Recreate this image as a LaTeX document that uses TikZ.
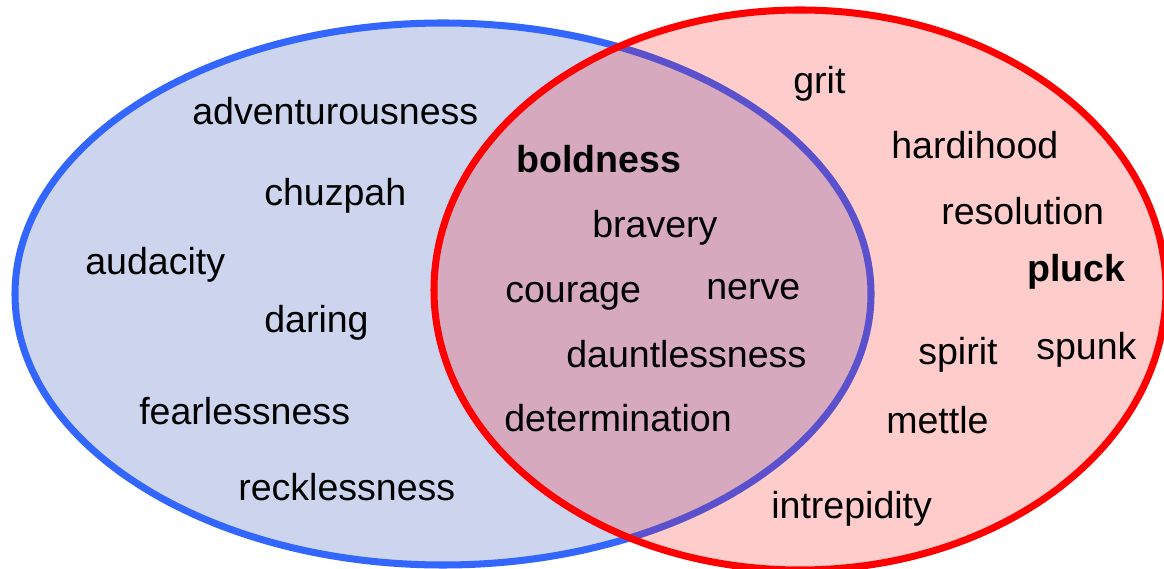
\documentclass[tikz,border=0pt]{standalone}
\usepackage{fontspec}
\setmainfont{Liberation Sans}
\usepackage{tikz}
\usepackage{xcolor}
\usetikzlibrary{positioning}

\definecolor{boldline}{RGB}{51,102,255}
\definecolor{boldfill}{RGB}{204,212,238}
\definecolor{pluckline}{RGB}{255,0,0}

\begin{document}
\begin{tikzpicture}[
          x=0.025cm, y=-0.025cm,
          word/.style={anchor=base west, inner sep=0pt, font=\fontsize{26.7}{30}\selectfont},
          keyword/.style={word, font=\fontsize{26.7}{30}\selectfont\bfseries},
          ring/.style={line width=5pt}
        ]
          \useasboundingbox (0,0) rectangle (1164,569);

          % Boldness set
          \fill[boldfill] (443,294) ellipse [x radius=428, y radius=271];
          \draw[ring, boldline] (443,294) ellipse [x radius=428, y radius=271];

          % Pluck set (see-through fill)
          \fill[pluckline, fill opacity=0.2] (800,290) ellipse [x radius=366, y radius=280];
          \draw[ring, pluckline] (800,290) ellipse [x radius=366, y radius=280];

          % Boldness only
          \node[word] (adventurousness) at (192,125) {adventurousness};
          \node[word] (chuzpah) at (264,206) {chuzpah};
          \node[word] (audacity) at (85,275) {audacity};
          \node[word] (daring) at (264,333) {daring};
          \node[word] (fearlessness) at (139,425) {fearlessness};
          \node[word] (recklessness) at (238,501) {recklessness};

          % Both sets
          \node[keyword] (boldness) at (516,173) {boldness};
          \node[word] (bravery) at (592,238) {bravery};
          \node[word] (courage) at (505,303) {courage};
          \node[word] (nerve) at (706,300) {nerve};
          \node[word] (dauntlessness) at (566,368) {dauntlessness};
          \node[word] (determination) at (504,432) {determination};

          % Pluck only
          \node[word] (grit) at (793,94) {grit};
          \node[word] (hardihood) at (891,159) {hardihood};
          \node[word] (resolution) at (941,225) {resolution};
          \node[keyword] (pluck) at (1027,282) {pluck};
          \node[word] (spirit) at (918,365) {spirit};
          \node[word] (spunk) at (1036,360) {spunk};
          \node[word] (mettle) at (886,434) {mettle};
          \node[word] (intrepidity) at (771,519) {intrepidity};

        \end{tikzpicture}
\end{document}
